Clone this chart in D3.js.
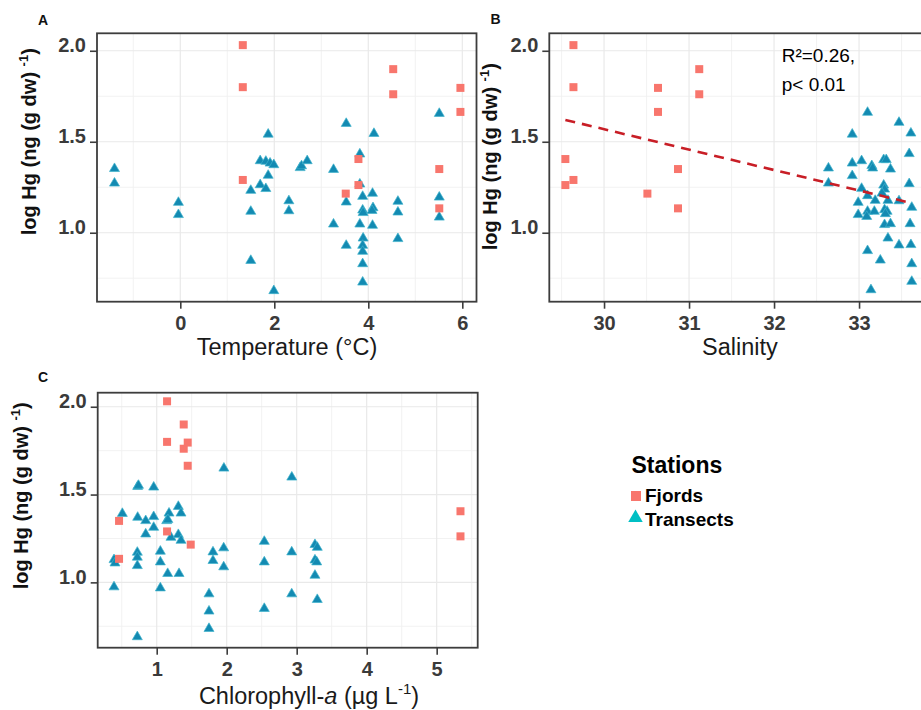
<!DOCTYPE html>
<html>
<head>
<meta charset="utf-8">
<script src="https://cdn.jsdelivr.net/npm/d3@7"></script>
<style>
  body { margin: 0; background: #fff; }
  svg { display: block; }
  text { font-family: "Liberation Sans", Arial, sans-serif; }
</style>
</head>
<body>
<svg id="chart" width="921" height="710"></svg>
<script>
	// fjord stations, same stations in every panel
var fjordHg   = [2.031, 1.800, 1.290, 1.899, 1.761, 1.796, 1.664, 1.405, 1.262, 1.215, 1.350, 1.134];
var fjordTemp = [1.33, 1.33, 1.33, 4.53, 4.53, 5.96, 5.96, 3.79, 3.79, 3.52, 5.51, 5.51];
var fjordSal  = [29.64, 29.64, 29.64, 31.12, 31.12, 30.635, 30.635, 29.545, 29.545, 30.51, 30.87, 30.87];
var fjordChl  = [1.148, 1.148, 1.148, 1.386, 1.386, 1.443, 1.443, 5.34, 5.34, 1.486, 0.462, 0.462];

	// transect stations, [x, log Hg]
var transTemp = [
	[-1.40, 1.36], [-1.40, 1.28], [-0.04, 1.174], [-0.04, 1.107],
	[1.87, 1.549], [1.70, 1.403], [1.82, 1.40], [1.91, 1.39], [1.99, 1.381], [1.87, 1.323],
	[1.70, 1.271], [1.82, 1.25], [1.50, 1.24], [1.50, 1.125], [1.50, 0.855], [1.99, 0.689],
	[2.31, 1.183], [2.31, 1.128], [2.55, 1.365], [2.58, 1.375], [2.70, 1.403],
	[5.51, 1.663], [3.53, 1.608], [4.12, 1.553], [3.82, 1.44], [3.26, 1.355], [3.82, 1.275],
	[3.88, 1.207], [4.09, 1.224], [3.53, 1.176], [4.63, 1.18], [5.51, 1.203], [3.88, 1.132],
	[3.89, 1.118], [4.10, 1.145], [4.08, 1.13], [4.63, 1.121], [5.51, 1.093], [3.26, 1.055],
	[3.82, 1.055], [4.09, 1.048], [4.63, 0.975], [3.89, 0.978], [3.53, 0.938], [3.88, 0.938],
	[3.88, 0.905], [3.88, 0.837], [3.88, 0.736]
];
var transSal = [
	[32.64, 1.363], [32.64, 1.28], [33.10, 1.669], [33.47, 1.614], [32.92, 1.549], [33.61, 1.555],
	[33.59, 1.442], [32.92, 1.39], [33.03, 1.403], [33.15, 1.376], [33.16, 1.363], [33.29, 1.409],
	[33.32, 1.409], [33.37, 1.357], [32.92, 1.321], [33.59, 1.277], [33.03, 1.251], [33.29, 1.269],
	[33.30, 1.247], [33.10, 1.211], [33.27, 1.225], [33.19, 1.185], [32.99, 1.174], [33.34, 1.185],
	[33.47, 1.183], [33.62, 1.147], [33.10, 1.125], [32.99, 1.107], [33.09, 1.097], [33.18, 1.125],
	[33.30, 1.134], [33.33, 1.125], [33.31, 1.112], [33.30, 1.052], [33.37, 1.057], [33.60, 1.057],
	[33.34, 0.978], [33.47, 0.94], [33.61, 0.942], [33.10, 0.909], [33.25, 0.857], [33.62, 0.837],
	[33.62, 0.74], [33.14, 0.694]
];
var transChl = [
	[0.728, 1.554], [0.74, 1.56], [0.957, 1.55], [0.509, 1.40], [0.728, 1.378], [0.843, 1.359],
	[0.957, 1.382], [0.957, 1.321], [0.843, 1.283], [1.176, 1.402], [1.143, 1.359], [1.16, 1.365],
	[1.309, 1.44], [1.347, 1.402], [1.204, 1.264], [1.309, 1.28], [1.347, 1.247], [0.723, 1.179],
	[0.723, 1.151], [0.723, 1.103], [1.052, 1.185], [1.052, 1.124], [0.39, 1.137], [0.404, 1.118],
	[1.157, 1.058], [1.319, 1.058], [0.39, 0.982], [1.052, 0.976], [0.723, 0.698], [1.747, 0.942],
	[1.747, 0.844], [1.747, 0.745], [1.804, 1.181], [1.804, 1.132], [1.957, 1.204], [1.957, 1.096],
	[1.96, 1.658], [2.93, 1.607], [2.537, 1.241], [2.537, 1.124], [2.537, 0.859], [2.929, 1.181],
	[2.929, 0.942], [3.261, 1.223], [3.294, 1.207], [3.261, 1.135], [3.286, 1.124], [3.261, 1.048],
	[3.294, 0.91]
];

	// ticks
var hgTicks = [1.0, 1.5, 2.0];
var hgMinor = [0.75, 1.25, 1.75];
var tempTicks = [0, 2, 4, 6];
var tempMinor = [-1, 1, 3, 5];
var salTicks = [30, 31, 32, 33];
var salMinor = [29.5, 30.5, 31.5, 32.5, 33.5];
var chlTicks = [1, 2, 3, 4, 5];
var chlMinor = [0.5, 1.5, 2.5, 3.5, 4.5, 5.5];

	// linear fit hg ~ salinity
var salFit = [4.935, -0.1122];	// intercept, slope
var salFitRange = [29.545, 33.6];
var fitLabel = ['R\u00b2=0.26,', 'p< 0.01'];

var legendLabels = ['Fjords', 'Transects'];

var colFjord = '#f8766d';
var colTrans = '#138ab2';

var svg = d3.select('#chart');

	//triangle with its box centred on the point
var triangle = {
	draw: function(ctx, size) {
		var w = Math.sqrt(size), h = w * 0.86;
		ctx.moveTo(0, -h / 2);
		ctx.lineTo(w / 2, h / 2);
		ctx.lineTo(-w / 2, h / 2);
		ctx.closePath();
	}
};

function drawPanel(p) {
	var g = svg.append('g');
	var x = d3.scaleLinear().domain(p.xDom).range([p.x0, p.x1]);
	var y = d3.scaleLinear().domain(p.yDom).range([p.y1, p.y0]);

		//grid
	g.selectAll('.mx').data(p.xMinor).enter().append('line')
		.attr('x1', x).attr('x2', x).attr('y1', p.y0).attr('y2', p.y1)
		.attr('stroke', '#f0f0f0').attr('stroke-width', 0.9);
	g.selectAll('.my').data(hgMinor).enter().append('line')
		.attr('y1', y).attr('y2', y).attr('x1', p.x0).attr('x2', p.x1)
		.attr('stroke', '#f0f0f0').attr('stroke-width', 0.9);
	g.selectAll('.gx').data(p.xTicks).enter().append('line')
		.attr('x1', x).attr('x2', x).attr('y1', p.y0).attr('y2', p.y1)
		.attr('stroke', '#e9e9e9').attr('stroke-width', 1.2);
	g.selectAll('.gy').data(hgTicks).enter().append('line')
		.attr('y1', y).attr('y2', y).attr('x1', p.x0).attr('x2', p.x1)
		.attr('stroke', '#e9e9e9').attr('stroke-width', 1.2);

		//transects then fjords on top
	g.selectAll('.tr').data(p.trans).enter().append('path')
		.attr('d', d3.symbol(triangle, 100))
		.attr('transform', function(d) { return 'translate(' + x(d[0]) + ',' + y(d[1]) + ')'; })
		.attr('fill', colTrans).attr('stroke', '#3fb3cc').attr('stroke-width', 0.7);

	g.selectAll('.fj').data(p.fjX).enter().append('path')
		.attr('d', d3.symbol(d3.symbolSquare, 64))
		.attr('transform', function(d, i) { return 'translate(' + x(d) + ',' + y(fjordHg[i]) + ')'; })
		.attr('fill', colFjord);

	if (p.fit) {
		var line = d3.line()
			.x(function(d) { return x(d); })
			.y(function(d) { return y(salFit[0] + salFit[1] * d); });
		g.append('path').datum(salFitRange)
			.attr('d', line)
			.attr('fill', 'none').attr('stroke', '#c81e26')
			.attr('stroke-width', 2.6).attr('stroke-dasharray', '10,7');
	}

		//frame
	g.append('rect')
		.attr('x', p.x0).attr('y', p.y0)
		.attr('width', p.x1 - p.x0).attr('height', p.y1 - p.y0)
		.attr('fill', 'none').attr('stroke', '#3d3d3d').attr('stroke-width', 1.8);

		//axes
	var ax = g.append('g').attr('transform', 'translate(0,' + p.y1 + ')')
		.call(d3.axisBottom(x).tickValues(p.xTicks).tickSize(7).tickFormat(d3.format('d')));
	var ay = g.append('g').attr('transform', 'translate(' + p.x0 + ',0)')
		.call(d3.axisLeft(y).tickValues(hgTicks).tickSize(7).tickPadding(4).tickFormat(d3.format('.1f')));
	[ax, ay].forEach(function(a) {
		a.select('.domain').remove();
		a.selectAll('line').attr('stroke', '#3d3d3d').attr('stroke-width', 1.6);
		a.selectAll('text').attr('fill', '#3a3a3a').attr('font-size', 20).attr('font-weight', 'bold')
			.style('font-family', '"Liberation Sans", Arial, sans-serif');
	});
	ax.selectAll('text').attr('y', 28.5).attr('dy', 0);
	ay.selectAll('text').attr('y', 1).attr('dy', 0);

		//titles
	var xt = g.append('text')
		.attr('x', p.xTitleX).attr('y', p.xTitleY)
		.attr('text-anchor', 'middle').attr('font-size', 23.5).attr('fill', '#1a1a1a');
	p.xTitle(xt);

	var yt = g.append('text')
		.attr('transform', 'translate(' + p.yTitle[0] + ',' + p.yTitle[1] + ') rotate(-90)')
		.attr('text-anchor', 'middle').attr('font-size', 20).attr('font-weight', 'bold').attr('fill', '#111');
	yt.append('tspan').text('log Hg (ng (g dw) ');
	yt.append('tspan').attr('font-size', 13).attr('dy', -8).text('-1');
	yt.append('tspan').attr('dy', 8).text(')');

	g.append('text').attr('x', p.tag[0]).attr('y', p.tag[1])
		.attr('font-size', 14).attr('font-weight', 'bold').attr('fill', '#111').text(p.tagText);

	return { x: x, y: y };
}

drawPanel({
	x0: 97, x1: 476.5, y0: 33.3, y1: 301.7,
	xDom: [-1.772, 6.302], yDom: [0.621, 2.096],
	xTicks: tempTicks, xMinor: tempMinor,
	trans: transTemp, fjX: fjordTemp,
	xTitleX: 287, xTitleY: 355,
	xTitle: function(t) { t.text('Temperature (\u00b0C)'); },
	yTitle: [36, 141.7], tag: [38, 25], tagText: 'A'
});

drawPanel({
	x0: 549.3, x1: 929.6, y0: 33.3, y1: 301.7,
	xDom: [29.356, 33.83], yDom: [0.621, 2.096],
	xTicks: salTicks, xMinor: salMinor,
	trans: transSal, fjX: fjordSal, fit: true,
	xTitleX: 740, xTitleY: 355,
	xTitle: function(t) { t.text('Salinity'); },
	yTitle: [497, 156.7], tag: [490.5, 24], tagText: 'B'
});

drawPanel({
	x0: 97.7, x1: 477.7, y0: 392.7, y1: 647.7,
	xDom: [0.157, 5.586], yDom: [0.628, 2.08],
	xTicks: chlTicks, xMinor: chlMinor,
	trans: transChl, fjX: fjordChl,
	xTitleX: 309, xTitleY: 704,
	xTitle: function(t) {
		t.append('tspan').text('Chlorophyll-');
		t.append('tspan').attr('font-style', 'italic').text('a');
		t.append('tspan').text(' (\u00b5g L');
		t.append('tspan').attr('font-size', 15).attr('dy', -10).text('-1');
		t.append('tspan').attr('dy', 10).text(')');
	},
	yTitle: [27.5, 495.8], tag: [38, 381.7], tagText: 'C'
});

	//fit annotation in panel B
svg.selectAll('.fitlab').data(fitLabel).enter().append('text')
	.attr('x', 781.7).attr('y', function(d, i) { return 62.3 + i * 28.4; })
	.attr('font-size', 19).attr('fill', '#000').text(function(d) { return d; });

	//legend
var lg = svg.append('g');
lg.append('text').attr('x', 631.5).attr('y', 473)
	.attr('font-size', 23).attr('font-weight', 'bold').attr('fill', '#000').text('Stations');
lg.append('path').attr('d', d3.symbol(d3.symbolSquare, 100))
	.attr('transform', 'translate(636,496)').attr('fill', colFjord);
lg.append('path').attr('d', d3.symbol(triangle, 210))
	.attr('transform', 'translate(635.5,515.7)').attr('fill', '#00bfc4');
lg.selectAll('.lt').data(legendLabels).enter().append('text')
	.attr('x', 645).attr('y', function(d, i) { return 501.7 + i * 24.3; })
	.attr('font-size', 19).attr('font-weight', 'bold').attr('fill', '#000')
	.text(function(d) { return d; });
</script>
</body>
</html>
